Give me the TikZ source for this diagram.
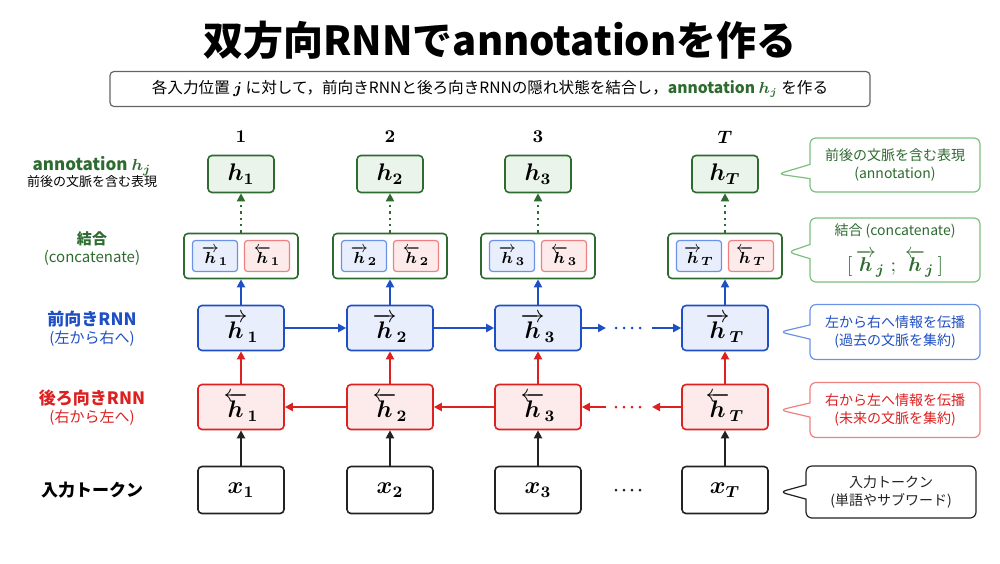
\documentclass[tikz,border=0pt]{standalone}
\usepackage{amsmath,bm}
\usepackage{fontspec}
\setmainfont{Noto Sans CJK JP}
\usetikzlibrary{shapes.callouts,arrows.meta}
\definecolor{gd}{HTML}{2E6B30}\definecolor{gf}{HTML}{EAF4EA}\definecolor{gl}{HTML}{7CC07E}
\definecolor{bd}{HTML}{1F4FC4}\definecolor{bf}{HTML}{E8EEFC}\definecolor{bl}{HTML}{6A93E8}
\definecolor{rd}{HTML}{DD2020}\definecolor{rf}{HTML}{FDEAEA}\definecolor{rl}{HTML}{F08080}
\definecolor{kd}{HTML}{222222}
\newcommand{\fh}[1]{\overrightarrow{\bm h}_{\bm{#1}}}
\newcommand{\bh}[1]{\overleftarrow{\bm h}_{\bm{#1}}}
\begin{document}
\begin{tikzpicture}[x=0.5pt,y=-0.5pt,
 box/.style={draw,rounded corners=2pt,line width=0.8pt,minimum width=43pt,minimum height=22.5pt,inner sep=0pt,font=\fontsize{12}{12}\selectfont},
 gbox/.style={box,draw=gd,fill=gf,minimum width=33pt,minimum height=18.5pt},
 fbox/.style={box,draw=bd,fill=bf},
 rbox/.style={box,draw=rd,fill=rf},
 xbox/.style={box,draw=kd,fill=white,minimum height=23.5pt},
 cout/.style={draw=gd,fill=white,rounded corners=2pt,line width=0.8pt,minimum width=57pt,minimum height=22.5pt,inner sep=0pt},
 ibf/.style={draw=bl,fill=bf,rounded corners=1.5pt,line width=0.6pt,minimum width=22.5pt,minimum height=15.5pt,inner sep=0pt,font=\fontsize{8}{8}\selectfont},
 ibr/.style={ibf,draw=rl,fill=rf},
 lab/.style={font=\fontsize{7.5}{9}\selectfont,align=center},
 call/.style={rectangle callout,rounded corners=3pt,line width=0.6pt,fill=white,minimum width=85pt,align=center,font=\fontsize{7}{9}\selectfont,inner sep=2pt},
 ar/.style={-{Triangle[length=4pt,width=4pt]},line width=1pt},
 dots/.style={line width=1.5pt,dash pattern=on 0pt off 4pt,line cap=round}
]
\useasboundingbox (0,0) rectangle (1000,563);
\node[font=\bfseries\fontsize{20}{20}\selectfont] (title) at (500,40) {双方向RNNでannotationを作る};
\node[draw=kd!70,rounded corners=2pt,minimum width=380pt,minimum height=17.5pt,font=\fontsize{7.8}{9}\selectfont,line width=0.6pt] (sub) at (490,89) {各入力位置 $\bm j$ に対して，前向きRNNと後ろ向きRNNの隠れ状態を結合し，\textcolor{gd}{\bfseries annotation $\bm h_{\bm j}$} を作る};
% left labels
\node[lab] (l1) at (92,172) {\textcolor{gd}{\bfseries\fontsize{8.5}{10}\selectfont annotation $\bm h_{\bm j}$}\\[-1pt]\fontsize{6.5}{8}\selectfont 前後の文脈を含む表現};
\node[lab,text=gd] (l2) at (92,249) {\bfseries 結合\\(concatenate)};
\node[lab,text=bd] (l3) at (92,329) {\bfseries\fontsize{8.5}{10}\selectfont 前向きRNN\\\fontsize{7.5}{9}\selectfont(左から右へ)};
\node[lab,text=rd] (l4) at (92,408) {\bfseries\fontsize{8.5}{10}\selectfont 後ろ向きRNN\\\fontsize{7.5}{9}\selectfont(右から左へ)};
\node[lab,font=\bfseries\fontsize{8.5}{10}\selectfont] (l5) at (92,490) {入力トークン};
% columns
\foreach \i/\x/\s in {1/241/1,2/390/2,3/538/3,4/725/T}{
 \node[font=\fontsize{9}{9}\selectfont] (n\i) at (\x,137) {$\bm{\s}$};
 \node[gbox] (a\i) at (\x,174) {$\bm h_{\bm{\s}}$};
 \node[cout] (c\i) at (\x,256) {};
 \node[ibf] (cf\i) at (\x-26,256) {$\fh{\s}$};
 \node[ibr] (cb\i) at (\x+26,256) {$\bh{\s}$};
 \node[fbox] (f\i) at (\x,328) {$\fh{\s}$};
 \node[rbox] (b\i) at (\x,407) {$\bh{\s}$};
 \node[xbox] (x\i) at (\x,490) {$\bm x_{\bm{\s}}$};
 \draw[ar,kd] (x\i) -- (b\i);
 \draw[ar,rd] (b\i) -- (f\i);
 \draw[ar,bd] (f\i) -- (c\i);
 \draw[-{Triangle[length=4pt,width=4pt]},gd,line width=1.2pt,dotted] (c\i) -- (a\i);
}
\draw[ar,bd] (f1) -- (f2); \draw[ar,bd] (f2) -- (f3);
\draw[ar,rd] (b2) -- (b1); \draw[ar,rd] (b3) -- (b2);
\coordinate (fa) at (616,328); \coordinate (fb) at (644,328);
\coordinate (ba) at (616,407); \coordinate (bb) at (644,407);
\coordinate (fe) at (606,328); \coordinate (fs) at (652,328);
\coordinate (be) at (606,407); \coordinate (bs) at (652,407);
\draw[ar,bd] (f3) -- (fe); \draw[bd,dots] (fa) -- (fb); \draw[ar,bd] (fs) -- (f4);
\draw[ar,rd] (be) -- (b3); \draw[rd,dots] (ba) -- (bb); \draw[ar,rd] (b4) -- (bs);
\coordinate (xa) at (616,490); \coordinate (xb) at (644,490);
\draw[kd,dots] (xa) -- (xb);
% callouts
\node[call,draw=gl,text=gd,minimum height=27pt,callout absolute pointer={(778,174)}] (k1) at (895,165) {前後の文脈を含む表現\\(annotation)};
\node[call,draw=gl,text=gd,minimum height=32pt,callout absolute pointer={(788,252)}] (k2) at (895,250) {結合 (concatenate)\\[5pt]{\fontsize{10}{10}\selectfont$[\,\fh{j}\;;\;\bh{j}\,]$}};
\node[call,draw=bl,text=bd,minimum height=27.5pt,callout absolute pointer={(780,332)}] (k3) at (895,332) {左から右へ情報を伝播\\(過去の文脈を集約)};
\node[call,draw=rl,text=rd,minimum height=27.5pt,callout absolute pointer={(780,410)}] (k4) at (895,410) {右から左へ情報を伝播\\(未来の文脈を集約)};
\node[call,draw=kd,text=kd,minimum height=26pt,callout absolute pointer={(780,492)}] (k5) at (891,492) {入力トークン\\(単語やサブワード)};
\end{tikzpicture}
\end{document}
